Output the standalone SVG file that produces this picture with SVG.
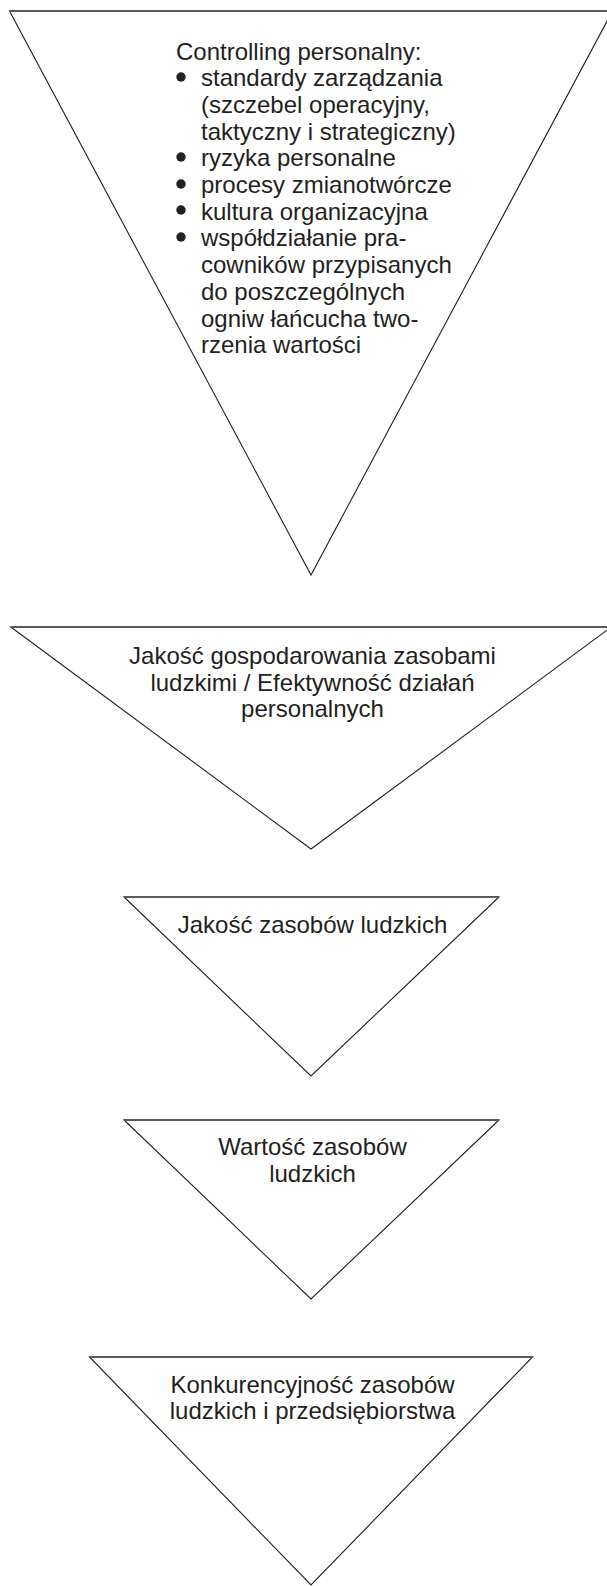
<svg xmlns="http://www.w3.org/2000/svg" width="607" height="1586" viewBox="0 0 607 1586">
<style>
.side{fill:#fff;stroke:#231f20;stroke-width:1.1;stroke-linejoin:miter}
.top{stroke:#5a5a5a;stroke-width:2;fill:none}
.t{font-family:"Liberation Sans",Arial,sans-serif;font-size:24px;fill:#231f20}
.c{text-anchor:middle}
.b{fill:#231f20}
</style>
<g id="connectors"/>
<g id="node1">
<polygon class="side" points="9.5,11 612.5,11 311,575"/>
<line class="top" x1="9.5" y1="11" x2="607" y2="11"/>
<text class="t" x="176" y="59.5">Controlling personalny:</text>
<circle class="b" cx="181" cy="77" r="4.7"/>
<text class="t" x="201" y="86.2">standardy zarządzania</text>
<text class="t" x="201" y="112.9">(szczebel operacyjny,</text>
<text class="t" x="201" y="139.6">taktyczny i strategiczny)</text>
<circle class="b" cx="181" cy="157" r="4.7"/>
<text class="t" x="201" y="166.3">ryzyka personalne</text>
<circle class="b" cx="181" cy="184" r="4.7"/>
<text class="t" x="201" y="193">procesy zmianotwórcze</text>
<circle class="b" cx="181" cy="210" r="4.7"/>
<text class="t" x="201" y="219.7">kultura organizacyjna</text>
<circle class="b" cx="181" cy="237" r="4.7"/>
<text class="t" x="201" y="246.4">współdziałanie pra-</text>
<text class="t" x="201" y="273.1">cowników przypisanych</text>
<text class="t" x="201" y="299.8">do poszczególnych</text>
<text class="t" x="201" y="326.5">ogniw łańcucha two-</text>
<text class="t" x="201" y="353.2">rzenia wartości</text>
</g>
<g id="node2">
<polygon class="side" points="10.8,627 611.2,627 311,849"/>
<line class="top" x1="10.8" y1="627" x2="607" y2="627"/>
<text class="t c" x="312.5" y="664">Jakość gospodarowania zasobami</text>
<text class="t c" x="312.5" y="690.5">ludzkimi / Efektywność działań</text>
<text class="t c" x="312.5" y="717">personalnych</text>
</g>
<g id="node3">
<polygon class="side" points="124,897 499,897 311,1076"/>
<line class="top" x1="124" y1="897" x2="499" y2="897"/>
<text class="t c" x="312.5" y="932.7">Jakość zasobów ludzkich</text>
</g>
<g id="node4">
<polygon class="side" points="124,1120 499,1120 311,1299"/>
<line class="top" x1="124" y1="1120" x2="499" y2="1120"/>
<text class="t c" x="312.5" y="1155">Wartość zasobów</text>
<text class="t c" x="312.5" y="1181.7">ludzkich</text>
</g>
<g id="node5">
<polygon class="side" points="89.5,1357 532.5,1357 311,1585"/>
<line class="top" x1="89.5" y1="1357" x2="532.5" y2="1357"/>
<text class="t c" x="312.5" y="1392.7">Konkurencyjność zasobów</text>
<text class="t c" x="312.5" y="1419.3">ludzkich i przedsiębiorstwa</text>
</g>
</svg>
